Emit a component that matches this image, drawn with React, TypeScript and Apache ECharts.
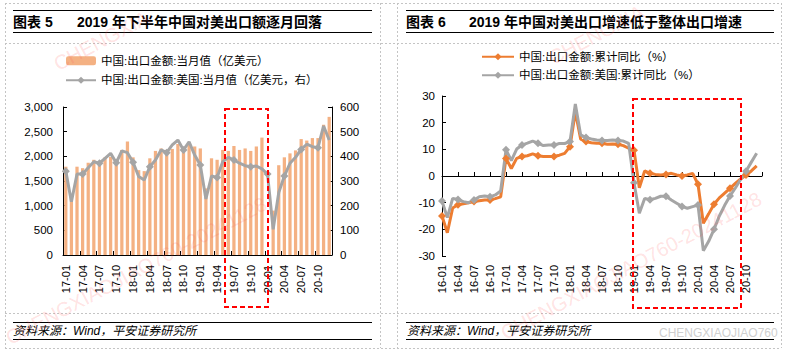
import { useEffect, useRef } from 'react';
import * as echarts from 'echarts';

const FONT = '"Liberation Sans", Arial, "Noto Sans CJK SC", sans-serif';

const monthCodes = ['01', '02', '03', '04', '05', '06', '07', '08', '09', '10', '11', '12'];
const yearsLeft = ['17', '18', '19', '20'];
const yearsRight = ['16', '17', '18', '19', '20'];
const catsLeft = yearsLeft.flatMap((y) => monthCodes.map((m) => `${y}-${m}`));
// the right axis runs one step past the data (no label there)
const catsRight = [...yearsRight.flatMap((y) => monthCodes.map((m) => `${y}-${m}`)), ''];

const nameTotalMonthly = '中国:出口金额:当月值（亿美元）';
const nameUsMonthly = '中国:出口金额:美国:当月值（亿美元，右）';
const nameTotalCum = '中国:出口金额:累计同比（%）';
const nameUsCum = '中国:出口金额:美国:累计同比（%）';

// 中国:出口金额:当月值 (亿美元)
const total2017 = [1790, 1200, 1790, 1760, 1870, 1930, 1900, 1980, 1990, 1890, 2130, 2300];
const total2018 = [1980, 1720, 1700, 1960, 2110, 2160, 2130, 2150, 2250, 2130, 2260, 2200];
const total2019 = [2160, 1350, 1960, 1930, 2130, 2110, 2210, 2130, 2160, 2110, 2200, 2380];
const total2020 = [null, 900, 1820, 1980, 2060, 2120, 2350, 2320, 2370, 2370, 2640, 2800];

// 中国:出口金额:美国:当月值 (亿美元)
const us2017 = [340, 216, 328, 328, 354, 378, 372, 392, 412, 374, 422, 415];
const us2018 = [376, 318, 304, 358, 385, 426, 415, 446, 466, 426, 459, 405];
const us2019 = [365, 227, 320, 314, 378, 396, 385, 372, 362, 358, 361, 349];
const us2020 = [328, 104, 253, 320, 372, 396, 428, 449, 439, 435, 523, 466];

// 中国:出口金额:累计同比 (%)
const cum2016 = [-15, -21.3, -12, -10.8, -10.4, -10, -9.6, -9.3, -9, -9, -8.5, -7.8];
const cum2017 = [6.6, 2.8, 6.6, 7.3, 7.6, 8.3, 7.6, 7.3, 7.3, 7.3, 7.8, 8.5];
const cum2018 = [11, 24.1, 13.8, 12.9, 12.5, 12.3, 12.3, 11.9, 12, 11.9, 11.4, 10.4];
const cum2019 = [9.7, -4.4, 1.9, 1.0, 0.6, 0.4, 0.6, 1.0, 0.4, 0.0, 0.4, 1.0];
const cum2020 = [-3.1, -17.7, -14.2, -10.6, -8.2, -6.4, -4.6, -2.8, -1.1, 0.4, 1.9, 3.8];

// 中国:出口金额:美国:累计同比 (%)
const usCum2016 = [-9.4, -15.6, -8.4, -8.8, -9.6, -10, -9, -7.8, -7.5, -7.8, -7.1, -5.6];
const usCum2017 = [9.8, 5.8, 10.1, 11.6, 12.3, 13.1, 12.3, 11.4, 11.6, 11.6, 12.2, 12.2];
const usCum2018 = [12.9, 27, 15.4, 14.4, 13.9, 13.5, 13.3, 13.3, 13.5, 13.3, 13.1, 12.2];
const usCum2019 = [-2.5, -14, -8.4, -8.9, -8.4, -7.6, -7.6, -9, -10.2, -11.4, -12.1, -11.5];
const usCum2020 = [-10.9, -28, -24.5, -20, -15, -11, -7.5, -4.5, -1.3, 1.8, 5.2, 8.5];

const totalMonthly = [...total2017, ...total2018, ...total2019, ...total2020];
const usMonthly = [...us2017, ...us2018, ...us2019, ...us2020];
const totalCum = [...cum2016, ...cum2017, ...cum2018, ...cum2019, ...cum2020];
const usCum = [...usCum2016, ...usCum2017, ...usCum2018, ...usCum2019, ...usCum2020];

const BAR = '#F4B183';
const GRAY = '#A5A5A5';
const ORANGE = '#ED7D31';

function buildGraphics() {
  const els: any[] = [];
  const dash = { stroke: '#C4C4C4', lineWidth: 1, lineDash: [2, 2] };
  [3.5, 43.5, 313.5, 348.5].forEach((y) =>
    els.push({ type: 'line', silent: true, shape: { x1: 5, y1: y, x2: 781, y2: y }, style: dash })
  );
  [5.5, 380.5, 397.5, 781.5].forEach((x) =>
    els.push({ type: 'line', silent: true, shape: { x1: x, y1: 3, x2: x, y2: 348 }, style: dash })
  );
  const black = { stroke: '#000', lineWidth: 1 };
  const panels = [
    { x1: 13, x2: 372 },
    { x1: 406, x2: 774 },
  ];
  panels.forEach((p) => {
    [10.5, 32.5, 322.5, 339.5].forEach((y) =>
      els.push({ type: 'line', silent: true, shape: { x1: p.x1, y1: y, x2: p.x2, y2: y }, style: black })
    );
  });
  const titleFont = `bold 14px ${FONT}`;
  const texts = [
    { x: 13, y: 22, text: '图表 5', font: titleFont },
    { x: 77, y: 22, text: '2019 年下半年中国对美出口额逐月回落', font: titleFont },
    { x: 406, y: 22, text: '图表 6', font: titleFont },
    { x: 469, y: 22, text: '2019 年中国对美出口增速低于整体出口增速', font: titleFont },
    { x: 13, y: 331, text: '资料来源：Wind，平安证券研究所', font: `italic 12px ${FONT}` },
    { x: 407, y: 331, text: '资料来源：Wind，平安证券研究所', font: `italic 12px ${FONT}` },
  ];
  texts.forEach((t) =>
    els.push({
      type: 'text',
      silent: true,
      x: t.x,
      y: t.y,
      style: { text: t.text, font: t.font, fill: '#000', verticalAlign: 'middle', align: 'left' },
    })
  );
  els.push({
    type: 'text',
    silent: true,
    x: 659,
    y: 333,
    style: { text: 'CHENGXIAOJIAO760', font: `12px ${FONT}`, fill: '#CFCFCF', verticalAlign: 'middle' },
  });
  // red dashed highlight boxes
  const red = { fill: 'none', stroke: '#FF0000', lineWidth: 2, lineDash: [5, 3] };
  els.push({ type: 'rect', silent: true, z: 50, shape: { x: 225, y: 109, width: 43, height: 198 }, style: red });
  els.push({ type: 'rect', silent: true, z: 50, shape: { x: 633, y: 99, width: 108, height: 209 }, style: red });
  // faint diagonal watermarks (upper ones only show their visible start)
  const wm = [
    { x: 60, y: 74, text: 'CHENGXIA' },
    { x: 12, y: 348, text: 'CHENGXIAOJIAO760-20241128' },
    { x: 555, y: 68, text: 'CHENGXIA' },
    { x: 507, y: 343, text: 'CHENGXIAOJIAO760-20241128' },
  ];
  wm.forEach((w) =>
    els.push({
      type: 'text',
      silent: true,
      z: 60,
      x: w.x,
      y: w.y,
      rotation: (28 * Math.PI) / 180,
      style: {
        text: w.text,
        font: `20px ${FONT}`,
        fill: 'rgba(255,90,90,0.18)',
        verticalAlign: 'bottom',
        align: 'left',
      },
    })
  );
  return els;
}

export default function App() {
  const ref = useRef<HTMLDivElement>(null);
  useEffect(() => {
    if (!ref.current) return;
    const chart = echarts.init(ref.current, null, { renderer: 'svg' });
    const axisText = { color: '#000', fontSize: 11.5, fontFamily: FONT };
    const blackLine = { lineStyle: { color: '#000', width: 1 } };
    chart.setOption({
      animation: false,
      backgroundColor: '#fff',
      textStyle: { fontFamily: FONT },
      grid: [
        { left: 63, top: 107, width: 269, height: 148, outerBoundsMode: 'none' },
        { left: 442, top: 96, width: 320, height: 160, outerBoundsMode: 'none' },
      ],
      legend: [
        {
          left: 65,
          top: 55,
          orient: 'vertical',
          padding: 0,
          itemWidth: 30,
          itemHeight: 9,
          itemGap: 8,
          data: [nameTotalMonthly, nameUsMonthly],
          textStyle: { ...axisText },
        },
        {
          left: 481,
          top: 51,
          orient: 'vertical',
          padding: 0,
          itemWidth: 32,
          itemHeight: 9,
          itemGap: 7,
          data: [nameTotalCum, nameUsCum],
          textStyle: { ...axisText },
        },
      ],
      xAxis: [
        {
          gridIndex: 0,
          type: 'category',
          data: catsLeft,
          boundaryGap: true,
          axisLine: { show: true, ...blackLine },
          axisTick: { show: true, inside: true, length: 4, interval: 2, ...blackLine },
          axisLabel: { ...axisText, fontSize: 11, rotate: 90, interval: 2, margin: 10 },
          splitLine: { show: false },
        },
        {
          gridIndex: 1,
          type: 'category',
          data: catsRight,
          boundaryGap: false,
          position: 'bottom',
          axisLine: { show: false, onZero: false },
          axisTick: { show: false },
          axisLabel: { ...axisText, fontSize: 11, rotate: 90, interval: 2, margin: 9 },
          splitLine: { show: false },
        },
        {
          gridIndex: 1,
          type: 'category',
          data: catsRight,
          boundaryGap: false,
          position: 'bottom',
          axisLine: { show: true, onZero: true, ...blackLine },
          axisTick: { show: true, inside: true, length: 4, interval: 2, ...blackLine },
          axisLabel: { show: false },
          splitLine: { show: false },
        },
      ],
      yAxis: [
        {
          gridIndex: 0,
          type: 'value',
          min: 0,
          max: 3000,
          interval: 500,
          position: 'left',
          axisLine: { show: true, ...blackLine },
          axisTick: { show: true, inside: true, length: 4, ...blackLine },
          axisLabel: {
            ...axisText,
            margin: 10,
            formatter: (v: number) => v.toLocaleString('en-US'),
          },
          splitLine: { show: false },
        },
        {
          gridIndex: 0,
          type: 'value',
          min: 0,
          max: 600,
          interval: 100,
          position: 'right',
          axisLine: { show: true, ...blackLine },
          axisTick: { show: true, inside: true, length: 4, ...blackLine },
          axisLabel: { ...axisText, margin: 8 },
          splitLine: { show: false },
        },
        {
          gridIndex: 1,
          type: 'value',
          min: -30,
          max: 30,
          interval: 10,
          position: 'left',
          axisLine: { show: true, onZero: false, ...blackLine },
          axisTick: { show: true, inside: true, length: 4, ...blackLine },
          axisLabel: { ...axisText, margin: 7 },
          splitLine: { show: false },
        },
      ],
      series: [
        {
          name: nameTotalMonthly,
          type: 'bar',
          xAxisIndex: 0,
          yAxisIndex: 0,
          data: totalMonthly,
          barWidth: '58%',
          itemStyle: { color: BAR },
        },
        {
          name: nameUsMonthly,
          type: 'line',
          xAxisIndex: 0,
          yAxisIndex: 1,
          data: usMonthly,
          symbol: 'diamond',
          symbolSize: 8,
          lineStyle: { color: GRAY, width: 3 },
          itemStyle: { color: GRAY },
          z: 5,
        },
        {
          name: nameTotalCum,
          type: 'line',
          xAxisIndex: 1,
          yAxisIndex: 2,
          data: totalCum,
          symbol: 'diamond',
          symbolSize: 8,
          lineStyle: { color: ORANGE, width: 3 },
          itemStyle: { color: ORANGE },
        },
        {
          name: nameUsCum,
          type: 'line',
          xAxisIndex: 1,
          yAxisIndex: 2,
          data: usCum,
          symbol: 'diamond',
          symbolSize: 8,
          lineStyle: { color: GRAY, width: 3 },
          itemStyle: { color: GRAY },
        },
      ],
      graphic: { elements: buildGraphics() },
    });
    return () => chart.dispose();
  }, []);
  return (
    <div
      ref={ref}
      style={{ position: 'absolute', left: 0, top: 0, width: 788, height: 351, background: '#fff' }}
    />
  );
}
